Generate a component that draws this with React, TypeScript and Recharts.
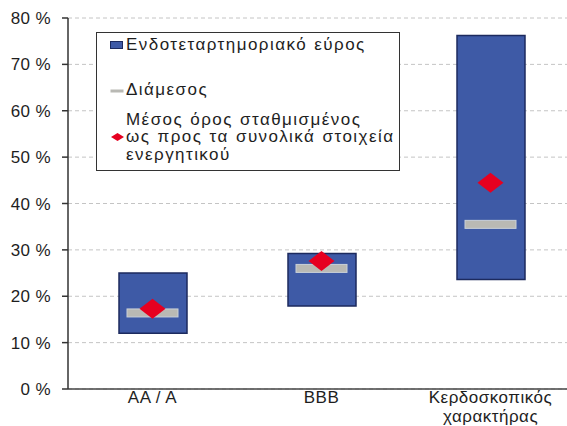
import React from "react";
import {
  ComposedChart,
  Bar,
  Scatter,
  XAxis,
  YAxis,
  CartesianGrid,
  Legend,
} from "recharts";

// Rating groups on the x axis
const categories = ["AA / A", "BBB", "Κερδοσκοπικός χαρακτήρας"];
// Interquartile range (lower and upper quartile), in %
const lowerQuartile = [12.0, 17.9, 23.6];
const upperQuartile = [25.0, 29.2, 76.2];
// Median, in %
const median = [16.4, 26.0, 35.5];
// Mean weighted by total assets, in %
const weightedMean = [17.3, 27.6, 44.5];
// Y axis ticks
const yTicks = [0, 10, 20, 30, 40, 50, 60, 70, 80];
// Legend entries
const legendIqr = "Ενδοτεταρτημοριακό εύρος";
const legendMedian = "Διάμεσος";
const legendMean = ["Μέσος όρος σταθμισμένος", "ως προς τα συνολικά στοιχεία", "ενεργητικού"];

const data = categories.map((name, i) => ({
  name,
  range: [lowerQuartile[i], upperQuartile[i]],
  median: median[i],
  mean: weightedMean[i],
}));

const FONT = "'Liberation Sans', Arial, sans-serif";
const BLUE = "#3e5aa6";
const NAVY = "#1c2a5e";
const GREY = "#b9b9b4";
const RED = "#e60020";
const TEXT = "#1e1e1e";

const MedianMark = (props: any) => {
  const { cx, cy } = props;
  if (cx == null || cy == null) return null;
  const w = 51;
  const h = 8;
  return (
    <rect
      x={cx - w / 2}
      y={cy - h / 2}
      width={w}
      height={h}
      fill={GREY}
      stroke="#c9d0d8"
      strokeWidth={1}
    />
  );
};

const MeanMark = (props: any) => {
  const { cx, cy } = props;
  if (cx == null || cy == null) return null;
  const hw = 13;
  const hh = 10;
  return (
    <polygon
      points={`${cx},${cy - hh} ${cx + hw},${cy} ${cx},${cy + hh} ${cx - hw},${cy}`}
      fill={RED}
    />
  );
};

const CategoryTick = (props: any) => {
  const { x, y, payload } = props;
  const value = String(payload.value);
  const lines = value.includes("/") ? [value] : value.split(" ");
  return (
    <g>
      {lines.map((ln: string, i: number) => (
        <text
          key={i}
          x={x}
          y={y + 6 + i * 19}
          textAnchor="middle"
          fontFamily={FONT}
          fontSize={17}
          letterSpacing={0.5}
          fill={TEXT}
        >
          {ln}
        </text>
      ))}
    </g>
  );
};

const LegendBox = () => {
  const textProps = {
    fontFamily: FONT,
    fontSize: 17,
    fill: TEXT,
    letterSpacing: 1.45,
    wordSpacing: 1,
  };
  return (
    <svg width={304} height={139} style={{ display: "block" }}>
      <rect x={0.5} y={0.5} width={303} height={138} fill="#fff" stroke="#333" strokeWidth={1} />
      <rect x={14.5} y={9.5} width={12} height={7} fill={BLUE} stroke={NAVY} strokeWidth={1} />
      <text x={30} y={17.7} {...textProps}>
        {legendIqr}
      </text>
      <rect x={14.5} y={57.5} width={13} height={3} fill={GREY} />
      <text x={30} y={62.7} {...textProps}>
        {legendMedian}
      </text>
      <polygon points="21.5,101 28,105 21.5,109 15,105" fill={RED} />
      {legendMean.map((ln, i) => (
        <text key={i} x={30} y={92.7 + i * 17.6} {...textProps}>
          {ln}
        </text>
      ))}
    </svg>
  );
};

export default function App() {
  return (
    <div
      style={{
        position: "fixed",
        left: 0,
        top: 0,
        width: 567,
        height: 426,
        overflow: "hidden",
        background: "#fff",
      }}
    >
      <ComposedChart
        width={580}
        height={426}
        data={data}
        margin={{ top: 18, right: 5, bottom: 7, left: 0 }}
        barCategoryGap={0}
      >
        <CartesianGrid
          horizontal
          vertical={false}
          stroke="#c4c4c4"
          strokeDasharray="4 3"
        />
        <XAxis
          xAxisId="edges"
          type="number"
          domain={[0, 3]}
          ticks={[1, 2]}
          height={0}
          axisLine={false}
          tick={false}
          tickSize={6}
          tickLine={{ stroke: "#333", strokeWidth: 1.5 }}
          allowDataOverflow
        />
        <XAxis
          dataKey="name"
          height={30}
          tickLine={false}
          axisLine={{ stroke: "#444", strokeWidth: 1.5 }}
          tick={<CategoryTick />}
          interval={0}
        />
        <YAxis
          domain={[0, 80]}
          ticks={yTicks}
          width={68}
          tickSize={6}
          tickMargin={11}
          axisLine={{ stroke: "#333", strokeWidth: 1.5 }}
          tickLine={{ stroke: "#333", strokeWidth: 1.5 }}
          tickFormatter={(v: number) => `${v} %`}
          tick={{ fontFamily: FONT, fontSize: 17, fill: TEXT, letterSpacing: 0.4 }}
          allowDataOverflow
        />
        <Bar
          dataKey="range"
          fill={BLUE}
          stroke={NAVY}
          strokeWidth={1.5}
          barSize={68}
          isAnimationActive={false}
        />
        <Scatter dataKey="median" shape={<MedianMark />} isAnimationActive={false} />
        <Scatter dataKey="mean" shape={<MeanMark />} isAnimationActive={false} />
        <Legend
          layout="vertical"
          align="center"
          verticalAlign="middle"
          content={<LegendBox />}
          wrapperStyle={{ left: 96, top: 32, width: 304, height: 139 }}
        />
      </ComposedChart>
    </div>
  );
}
